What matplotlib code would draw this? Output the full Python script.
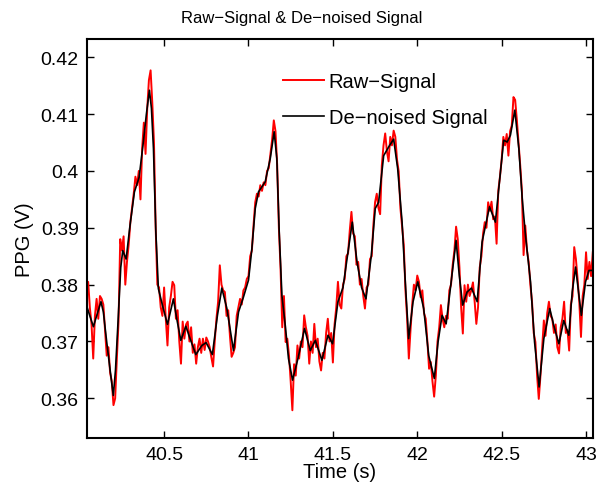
import numpy as np
import matplotlib
matplotlib.use("Agg")
import matplotlib.pyplot as plt

plt.rcParams["font.family"] = ["Liberation Sans", "DejaVu Sans"]

# raw signal, sampled every 10 ms from 40.04 s
raw_start = 40.04
raw_step = 0.01
raw_vals = [
    0.3790, 0.3805, 0.3760, 0.3730, 0.3670, 0.3745, 0.3775, 0.3740, 0.3780, 0.3775,
    0.3765, 0.3720, 0.3675, 0.3690, 0.3645, 0.3630, 0.3588, 0.3600, 0.3670, 0.3735,
    0.3880, 0.3860, 0.3885, 0.3800, 0.3840, 0.3870, 0.3910, 0.3935, 0.3960, 0.3990,
    0.3975, 0.4000, 0.3950, 0.4040, 0.4085, 0.4030, 0.4110, 0.4160, 0.4177, 0.4120,
    0.4050, 0.3900, 0.3800, 0.3795, 0.3760, 0.3745, 0.3795, 0.3740, 0.3693, 0.3760,
    0.3780, 0.3805, 0.3799, 0.3740, 0.3755, 0.3700, 0.3661, 0.3735, 0.3705, 0.3730,
    0.3735, 0.3700, 0.3725, 0.3680, 0.3695, 0.3661, 0.3690, 0.3705, 0.3680, 0.3705,
    0.3685, 0.3707, 0.3700, 0.3690, 0.3672, 0.3656, 0.3700, 0.3740, 0.3770, 0.3834,
    0.3800, 0.3790, 0.3787, 0.3745, 0.3755, 0.3710, 0.3673, 0.3680, 0.3690, 0.3745,
    0.3760, 0.3775, 0.3765, 0.3790, 0.3795, 0.3810, 0.3815, 0.3850, 0.3860, 0.3905,
    0.3945, 0.3960, 0.3955, 0.3975, 0.3965, 0.3980, 0.3975, 0.4000, 0.4005, 0.4030,
    0.4055, 0.4089, 0.4070, 0.4010, 0.3900, 0.3828, 0.3725, 0.3780, 0.3699, 0.3705,
    0.3675, 0.3630, 0.3579, 0.3660, 0.3640, 0.3693, 0.3670, 0.3700, 0.3690, 0.3746,
    0.3725, 0.3710, 0.3661, 0.3700, 0.3680, 0.3731, 0.3690, 0.3705, 0.3665, 0.3649,
    0.3680, 0.3670, 0.3715, 0.3740, 0.3700, 0.3715, 0.3663, 0.3730, 0.3760, 0.3805,
    0.3765, 0.3758, 0.3800, 0.3810, 0.3850, 0.3855, 0.3895, 0.3928, 0.3890, 0.3885,
    0.3835, 0.3840, 0.3800, 0.3810, 0.3780, 0.3758, 0.3795, 0.3800, 0.3845, 0.3850,
    0.3905, 0.3945, 0.3960, 0.3935, 0.3924, 0.4010, 0.4045, 0.4066, 0.4035, 0.4017,
    0.4060, 0.4045, 0.4071, 0.4060, 0.4020, 0.3999, 0.3935, 0.3902, 0.3870, 0.3790,
    0.3740, 0.3670, 0.3720, 0.3765, 0.3800, 0.3790, 0.3816, 0.3805, 0.3778, 0.3790,
    0.3750, 0.3740, 0.3700, 0.3652, 0.3664, 0.3630, 0.3603, 0.3640, 0.3700, 0.3725,
    0.3764, 0.3740, 0.3725, 0.3745, 0.3740, 0.3790, 0.3800, 0.3835, 0.3860, 0.3902,
    0.3880, 0.3830, 0.3760, 0.3714, 0.3799, 0.3770, 0.3800, 0.3780, 0.3790, 0.3804,
    0.3770, 0.3731, 0.3760, 0.3830, 0.3850, 0.3890, 0.3910, 0.3900, 0.3945, 0.3930,
    0.3946, 0.3915, 0.3920, 0.3872, 0.3965, 0.3990, 0.4020, 0.4060, 0.4045, 0.4065,
    0.4027, 0.4070, 0.4080, 0.4130, 0.4125, 0.4090, 0.4050, 0.4010, 0.3965, 0.3852,
    0.3904, 0.3860, 0.3840, 0.3800, 0.3770, 0.3715, 0.3699, 0.3640, 0.3599, 0.3640,
    0.3690, 0.3737, 0.3710, 0.3750, 0.3770, 0.3745, 0.3740, 0.3715, 0.3730, 0.3690,
    0.3679, 0.3725, 0.3740, 0.3770, 0.3715, 0.3720, 0.3684, 0.3765, 0.3780, 0.3866,
    0.3845, 0.3810, 0.3770, 0.3708, 0.3780, 0.3800, 0.3857, 0.3810, 0.3840, 0.3815,
    0.3857,
]
raw_t = raw_start + raw_step * np.arange(len(raw_vals))

# de-noised signal
den_t = [
    40.043, 40.060, 40.081, 40.100, 40.126, 40.140, 40.160, 40.180, 40.199, 40.212,
    40.229, 40.243, 40.255, 40.275, 40.298, 40.324, 40.352, 40.377, 40.395, 40.413,
    40.425, 40.437, 40.451, 40.466, 40.490, 40.520, 40.555, 40.575, 40.599, 40.629,
    40.654, 40.688, 40.724, 40.749, 40.786, 40.816, 40.842, 40.872, 40.911, 40.941,
    40.970, 41.000, 41.020, 41.040, 41.059, 41.099, 41.129, 41.152, 41.168, 41.182,
    41.198, 41.218, 41.237, 41.261, 41.293, 41.332, 41.366, 41.396, 41.435, 41.471,
    41.498, 41.530, 41.560, 41.587, 41.615, 41.643, 41.670, 41.696, 41.728, 41.751,
    41.771, 41.801, 41.830, 41.860, 41.884, 41.910, 41.929, 41.949, 41.975, 42.003,
    42.038, 42.068, 42.101, 42.123, 42.147, 42.171, 42.196, 42.230, 42.249, 42.269,
    42.295, 42.321, 42.355, 42.384, 42.428, 42.463, 42.487, 42.512, 42.533, 42.552,
    42.578, 42.602, 42.622, 42.641, 42.671, 42.695, 42.722, 42.750, 42.785, 42.809,
    42.839, 42.868, 42.898, 42.918, 42.938, 42.972, 42.997, 43.017, 43.040,
]
den_vals = [
    0.3761, 0.3745, 0.3726, 0.3745, 0.3770, 0.3752, 0.3699, 0.3650, 0.3605, 0.3650,
    0.3746, 0.3830, 0.3860, 0.3845, 0.3904, 0.3963, 0.3989, 0.4051, 0.4100, 0.4142,
    0.4110, 0.4039, 0.3893, 0.3793, 0.3764, 0.3730, 0.3775, 0.3740, 0.3702, 0.3727,
    0.3705, 0.3677, 0.3693, 0.3698, 0.3677, 0.3746, 0.3794, 0.3758, 0.3684, 0.3752,
    0.3778, 0.3808, 0.3863, 0.3934, 0.3963, 0.3981, 0.4022, 0.4069, 0.4022, 0.3893,
    0.3781, 0.3728, 0.3670, 0.3632, 0.3670, 0.3723, 0.3684, 0.3702, 0.3667, 0.3711,
    0.3696, 0.3770, 0.3795, 0.3852, 0.3910, 0.3840, 0.3795, 0.3775, 0.3852, 0.3934,
    0.3945, 0.4027, 0.4042, 0.4056, 0.4004, 0.3910, 0.3805, 0.3705, 0.3770, 0.3805,
    0.3758, 0.3675, 0.3635, 0.3699, 0.3746, 0.3731, 0.3793, 0.3878, 0.3816, 0.3764,
    0.3787, 0.3794, 0.3770, 0.3875, 0.3937, 0.3910, 0.3981, 0.4054, 0.4051, 0.4063,
    0.4107, 0.4039, 0.3951, 0.3887, 0.3805, 0.3699, 0.3620, 0.3705, 0.3758, 0.3728,
    0.3696, 0.3737, 0.3711, 0.3787, 0.3831, 0.3746, 0.3805, 0.3825, 0.3825,
]

xticks = [40.5, 41, 41.5, 42, 42.5, 43]
xtick_labels = ["40.5", "41", "41.5", "42", "42.5", "43"]
yticks = [0.36, 0.37, 0.38, 0.39, 0.40, 0.41, 0.42]
ytick_labels = ["0.36", "0.37", "0.38", "0.39", "0.4", "0.41", "0.42"]

fig = plt.figure(figsize=(6.04, 4.89), dpi=100)
ax = fig.add_axes([0.144, 0.102, 0.838, 0.816])

ax.plot(raw_t, raw_vals, color="red", lw=1.4, label="Raw\u2212Signal")
ax.plot(den_t, den_vals, color="black", lw=1.2, label="De\u2212noised Signal")

ax.set_xlim(40.043, 43.042)
ax.set_ylim(0.3530, 0.4232)
ax.set_xticks(xticks)
ax.set_xticklabels(xtick_labels)
ax.set_yticks(yticks)
ax.set_yticklabels(ytick_labels)
ax.tick_params(direction="in", length=5, width=1, top=True, right=True,
               labelsize=14, pad=6)
for s in ax.spines.values():
    s.set_linewidth(1.5)

ax.set_xlabel("Time (s)", fontsize=14.5, labelpad=-1)
ax.set_ylabel("PPG (V)", fontsize=14.5, labelpad=5)
fig.text(0.5, 0.963, "Raw\u2212Signal & De\u2212noised Signal", fontsize=12,
         ha="center", va="center")

ax.legend(loc="upper left", bbox_to_anchor=(0.372, 0.937), frameon=False,
          fontsize=14.5, handlelength=2.0, handletextpad=0.25,
          labelspacing=0.85, borderaxespad=0)

fig.savefig("out.png", dpi=100)
